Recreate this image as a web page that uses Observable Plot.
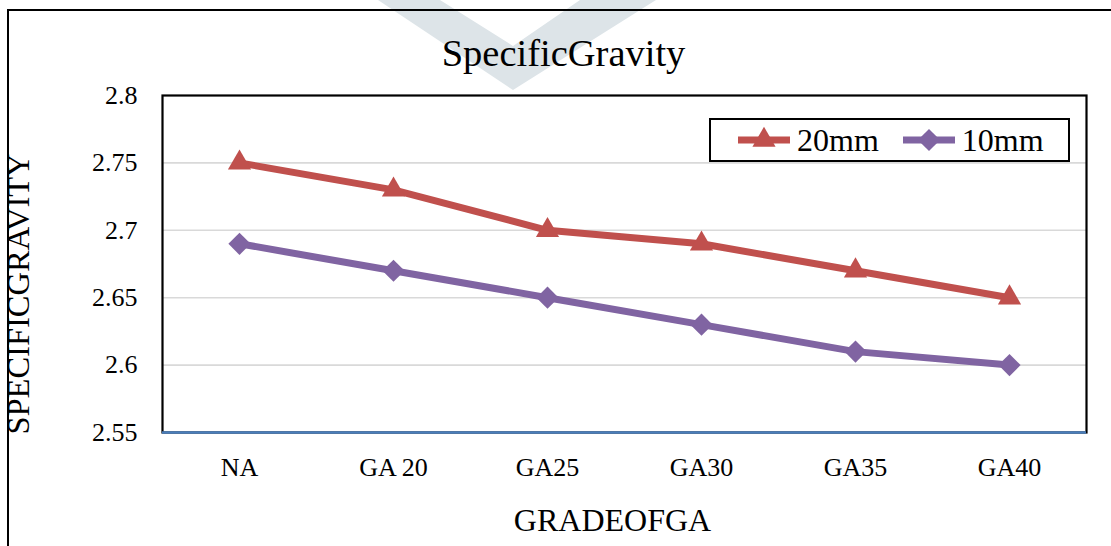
<!DOCTYPE html>
<html><head><meta charset="utf-8">
<script src="https://cdn.jsdelivr.net/npm/d3@7"></script>
<script src="https://cdn.jsdelivr.net/npm/@observablehq/plot@0.6"></script>
<style>
html,body{margin:0;padding:0;background:#fff;overflow:hidden;}
#wrap{position:relative;width:1111px;height:546px;overflow:hidden;font-family:"Liberation Serif","Times New Roman",Tinos,Times,"DejaVu Serif",serif;}
#wm{position:absolute;left:0;top:0;}
#frame{position:absolute;left:7px;top:9px;width:1200px;height:700px;border-left:2.5px solid #000;border-top:2.5px solid #000;}
#chart{position:absolute;left:0;top:0;}
#chart svg, #chart svg text{font-family:"Liberation Serif","Times New Roman",Tinos,Times,"DejaVu Serif",serif !important;}
#legend{position:absolute;left:709px;top:118px;width:357px;height:40px;border:2px solid #000;background:#fff;display:flex;align-items:center;box-sizing:content-box;}
#legend .item{display:flex;align-items:center;font-size:32px;line-height:1;color:#000;}
#legend svg{display:block;}
</style>
</head><body>
<div id="wrap">
  <svg id="wm" width="1111" height="546"></svg>
  <div id="frame"></div>
  <div id="chart"></div>
  <div id="legend"></div>
</div>
<script>
const categories = ["NA", "GA 20", "GA25", "GA30", "GA35", "GA40"];
const values20 = [2.75, 2.73, 2.70, 2.69, 2.67, 2.65];
const values10 = [2.69, 2.67, 2.65, 2.63, 2.61, 2.60];
const yTicks = [2.55, 2.6, 2.65, 2.7, 2.75, 2.8];
const gridTicks = [2.6, 2.65, 2.7, 2.75];
const seriesNames = ["20mm", "10mm"];
const colors = ["#c0504d", "#8064a2"];
const symbols = ["triangle", "diamond2"];

const rows = [];
categories.forEach((c, i) => {
  rows.push({grade: c, series: seriesNames[0], value: values20[i]});
  rows.push({grade: c, series: seriesNames[1], value: values10[i]});
});

// faint decorative watermark behind the chart
d3.select("#wm").append("polygon")
  .attr("points", "378,0 513,90 656,0 580,0 513,46 440,0")
  .attr("fill", "#dde4e8");

const font = "'Liberation Serif', 'Times New Roman', Tinos, Times, 'DejaVu Serif', serif";
const plot = Plot.plot({
  width: 1111, height: 546,
  marginLeft: 162, marginRight: 25, marginTop: 95, marginBottom: 114,
  style: {background: "transparent", fontFamily: font, fontSize: "26px", color: "#000", overflow: "visible"},
  x: {type: "point", domain: categories, padding: 0.5, label: null},
  y: {domain: [2.55, 2.8], label: null},
  color: {domain: seriesNames, range: colors},
  marks: [
    Plot.ruleY(gridTicks, {stroke: "#d9d9d9", strokeWidth: 1.6}),
    Plot.frame({stroke: "#000", strokeWidth: 2.2}),
    Plot.ruleY([2.55], {stroke: "#4a7ebb", strokeWidth: 2.6}),
    Plot.axisY({ticks: yTicks, tickSize: 0, tickPadding: 25, fontSize: 26, label: null, tickFormat: d => String(d)}),
    Plot.axisX({tickSize: 0, tickPadding: 25, fontSize: 26, label: null}),
    Plot.line(rows, {x: "grade", y: "value", stroke: "series", strokeWidth: 7, strokeLinejoin: "round"}),
    Plot.dot(rows.filter(d => d.series === seriesNames[0]), {x: "grade", y: "value", symbol: () => symbols[0], r: 8.6, fill: colors[0], stroke: "none"}),
    Plot.dot(rows.filter(d => d.series === seriesNames[1]), {x: "grade", y: "value", symbol: () => symbols[1], r: 10, fill: colors[1], stroke: "none"}),
    Plot.text(["SpecificGravity"], {text: d => d, frameAnchor: "top", lineAnchor: "middle", textAnchor: "middle", dx: -61, dy: -42, fontSize: 38.5, fill: "#000"}),
    Plot.text(["GRADEOFGA"], {text: d => d, frameAnchor: "bottom", lineAnchor: "middle", textAnchor: "middle", dx: -12, dy: 88, fontSize: 32, fill: "#000"}),
    Plot.text(["SPECIFICGRAVITY"], {text: d => d, frameAnchor: "left", lineAnchor: "middle", textAnchor: "middle", rotate: -90, dx: -144, dy: 30, fontSize: 32.5, fill: "#000"})
  ]
});
document.getElementById("chart").appendChild(plot);

// legend
const leg = d3.select("#legend");
seriesNames.forEach((name, i) => {
  const item = leg.append("div").attr("class", "item").style("margin-left", i === 0 ? "27px" : "24px");
  const s = item.append("svg").attr("width", 52).attr("height", 30);
  s.append("line").attr("x1", 0).attr("x2", 52).attr("y1", 15).attr("y2", 15)
    .attr("stroke", colors[i]).attr("stroke-width", 7);
  const sym = i === 0 ? d3.symbolTriangle : d3.symbolDiamond2;
  const r = i === 0 ? 8.6 : 10;
  s.append("path").attr("transform", "translate(26,15)")
    .attr("d", d3.symbol(sym, Math.PI * r * r)()).attr("fill", colors[i]);
  item.append("span").text(name).style("margin-left", "7px");
});
</script>
</body></html>
